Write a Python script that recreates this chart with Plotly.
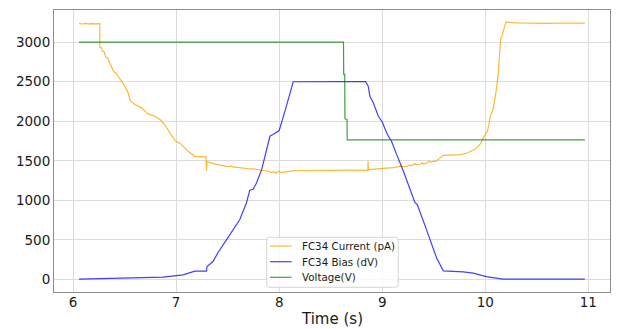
import plotly.graph_objects as go

# FC34 current (pA) readings over time (s)
current_t = [6.058, 6.10, 6.12, 6.15, 6.18, 6.21, 6.259, 6.260, 6.275, 6.285, 6.30, 6.317,
             6.335, 6.35, 6.373, 6.395, 6.415, 6.437, 6.47, 6.502, 6.534, 6.557, 6.58, 6.60,
             6.664, 6.728, 6.793, 6.842, 6.89, 6.939, 6.997, 7.04, 7.068, 7.117, 7.182, 7.23,
             7.289, 7.295, 7.30, 7.33, 7.358, 7.39, 7.424, 7.44, 7.46, 7.489, 7.52, 7.53,
             7.553, 7.60, 7.62, 7.65, 7.70, 7.748, 7.80, 7.845, 7.87, 7.90, 7.92, 7.942,
             7.97, 8.00, 8.02, 8.039, 8.07, 8.10, 8.136, 8.20, 8.30, 8.40, 8.524, 8.65,
             8.78, 8.86, 8.862, 8.866, 8.90, 8.977, 9.04, 9.107, 9.15, 9.18, 9.20, 9.237,
             9.26, 9.28, 9.30, 9.32, 9.33, 9.366, 9.39, 9.40, 9.43, 9.45, 9.47, 9.495,
             9.52, 9.56, 9.592, 9.65, 9.754, 9.82, 9.868, 9.90, 9.932, 9.96, 9.98, 10.00,
             10.02, 10.035, 10.045, 10.078, 10.095, 10.11, 10.125, 10.133, 10.15, 10.16,
             10.17, 10.19, 10.20, 10.3, 10.4, 10.5, 10.6, 10.7, 10.8, 10.9, 10.966]
current_pa = [3233, 3228, 3236, 3230, 3234, 3229, 3232, 2937, 2929, 2886, 2880, 2810,
              2800, 2759, 2684, 2625, 2610, 2570, 2506, 2443, 2359, 2253, 2230, 2211,
              2169, 2093, 2063, 2021, 1958, 1853, 1747, 1720, 1683, 1620, 1557, 1550,
              1549, 1376, 1494, 1478, 1465, 1455, 1448, 1438, 1442, 1430, 1428, 1435,
              1423, 1415, 1408, 1405, 1400, 1397, 1385, 1380, 1372, 1368, 1350, 1363,
              1345, 1370, 1350, 1354, 1365, 1370, 1372, 1378, 1376, 1378, 1380, 1382,
              1380, 1380, 1494, 1385, 1392, 1405, 1408, 1414, 1420, 1432, 1425, 1430,
              1445, 1440, 1452, 1465, 1448, 1456, 1478, 1460, 1470, 1495, 1480, 1494,
              1492, 1540, 1570, 1572, 1578, 1595, 1620, 1645, 1683, 1730, 1790, 1840,
              1873, 1960, 2043, 2169, 2300, 2423, 2600, 2718, 3055, 3070,
              3110, 3200, 3252, 3243, 3238, 3242, 3236, 3240, 3236, 3238, 3240]

# FC34 bias (dV)
bias_t = [6.058, 6.874, 7.068, 7.182, 7.295, 7.30, 7.358, 7.407, 7.488, 7.553, 7.617,
          7.682, 7.714, 7.748, 7.78, 7.83, 7.87, 7.91, 7.94, 8.0, 8.07, 8.136, 8.838, 8.864,
          8.88, 8.913, 8.962, 9.0, 9.05, 9.09, 9.14, 9.2, 9.317, 9.34, 9.424, 9.528,
          9.592, 9.786, 9.883, 10.01, 10.17, 10.966]
bias_dv = [5, 30, 60, 106, 106, 165, 228, 342, 502, 629, 756,
           967, 1127, 1144, 1220, 1388, 1600, 1810, 1832, 1882, 2190, 2499, 2500, 2443,
           2316, 2233, 2063, 1990, 1832, 1747, 1578, 1388, 975, 946, 650, 271,
           110, 97, 81, 38, 5, 5]

# Supply voltage (V)
volt_t = [6.058, 8.624, 8.626, 8.636, 8.638, 8.658, 8.660, 10.966]
volt_v = [3000, 3000, 2591, 2591, 2030, 2022, 1765, 1765]

series_names = ["FC34 Current (pA)", "FC34 Bias (dV)", "Voltage(V)"]
series_colors = ["rgba(255,165,0,0.8)", "rgba(0,0,255,0.75)", "rgba(0,128,0,0.75)"]

x_ticks = [6, 7, 8, 9, 10, 11]
y_ticks = [0, 500, 1000, 1500, 2000, 2500, 3000]

fig = go.Figure()
for xs, ys, name, color in zip([current_t, bias_t, volt_t], [current_pa, bias_dv, volt_v],
                               series_names, series_colors):
    fig.add_trace(go.Scatter(x=xs, y=ys, mode="lines", name=name, showlegend=False,
                             line=dict(color=color, width=1.2)))

axis_common = dict(showgrid=True, gridcolor="#dcdcdc", gridwidth=1, zeroline=False,
                   showline=True, linecolor="#8c8c8c", linewidth=1, mirror=True,
                   ticks="", automargin=False,
                   tickfont=dict(family="DejaVu Sans", size=13.5, color="#1a1a1a"))

fig.update_xaxes(range=[5.815, 11.21], tickvals=x_ticks, ticktext=[str(v) for v in x_ticks],
                 ticklabelstandoff=-2, **axis_common)
fig.update_yaxes(range=[-157, 3405], tickvals=y_ticks, ticktext=[str(v) for v in y_ticks],
                 **axis_common)

# x-axis title placed beneath the tick labels
fig.add_annotation(text="Time (s)", xref="paper", yref="paper", x=0.5, y=-0.095,
                   xanchor="center", yanchor="middle", showarrow=False,
                   font=dict(family="DejaVu Sans", size=15, color="#1a1a1a"))

# Legend box (paper coordinates), rounded corners
bx0, bx1, by0, by1, r = 0.3826, 0.6192, 0.0167, 0.194, 0.005
ry = r * 556 / 282
fig.add_shape(type="path", xref="paper", yref="paper",
              path=(f"M {bx0 + r},{by0} L {bx1 - r},{by0} Q {bx1},{by0} {bx1},{by0 + ry} "
                    f"L {bx1},{by1 - ry} Q {bx1},{by1} {bx1 - r},{by1} "
                    f"L {bx0 + r},{by1} Q {bx0},{by1} {bx0},{by1 - ry} "
                    f"L {bx0},{by0 + ry} Q {bx0},{by0} {bx0 + r},{by0} Z"),
              fillcolor="rgba(255,255,255,0.8)", line=dict(color="#d4d4d4", width=1),
              layer="above")
legend_rows = [0.1631, 0.1074, 0.0521]
for row_y, name, color in zip(legend_rows, series_names, series_colors):
    fig.add_shape(type="line", xref="paper", yref="paper", x0=0.3885, x1=0.4275,
                  y0=row_y, y1=row_y, line=dict(color=color, width=1.2), layer="above")
    fig.add_annotation(text=name, xref="paper", yref="paper", x=0.4424, y=row_y,
                       xanchor="left", yanchor="middle", showarrow=False,
                       font=dict(family="DejaVu Sans", size=10.3, color="#1a1a1a"))

fig.update_layout(
    width=629, height=329,
    margin=dict(l=54, r=19, t=10, b=37),
    paper_bgcolor="white", plot_bgcolor="white",
    font=dict(family="DejaVu Sans", color="#1a1a1a"),
    showlegend=False,
)

fig.write_html("out.html")
